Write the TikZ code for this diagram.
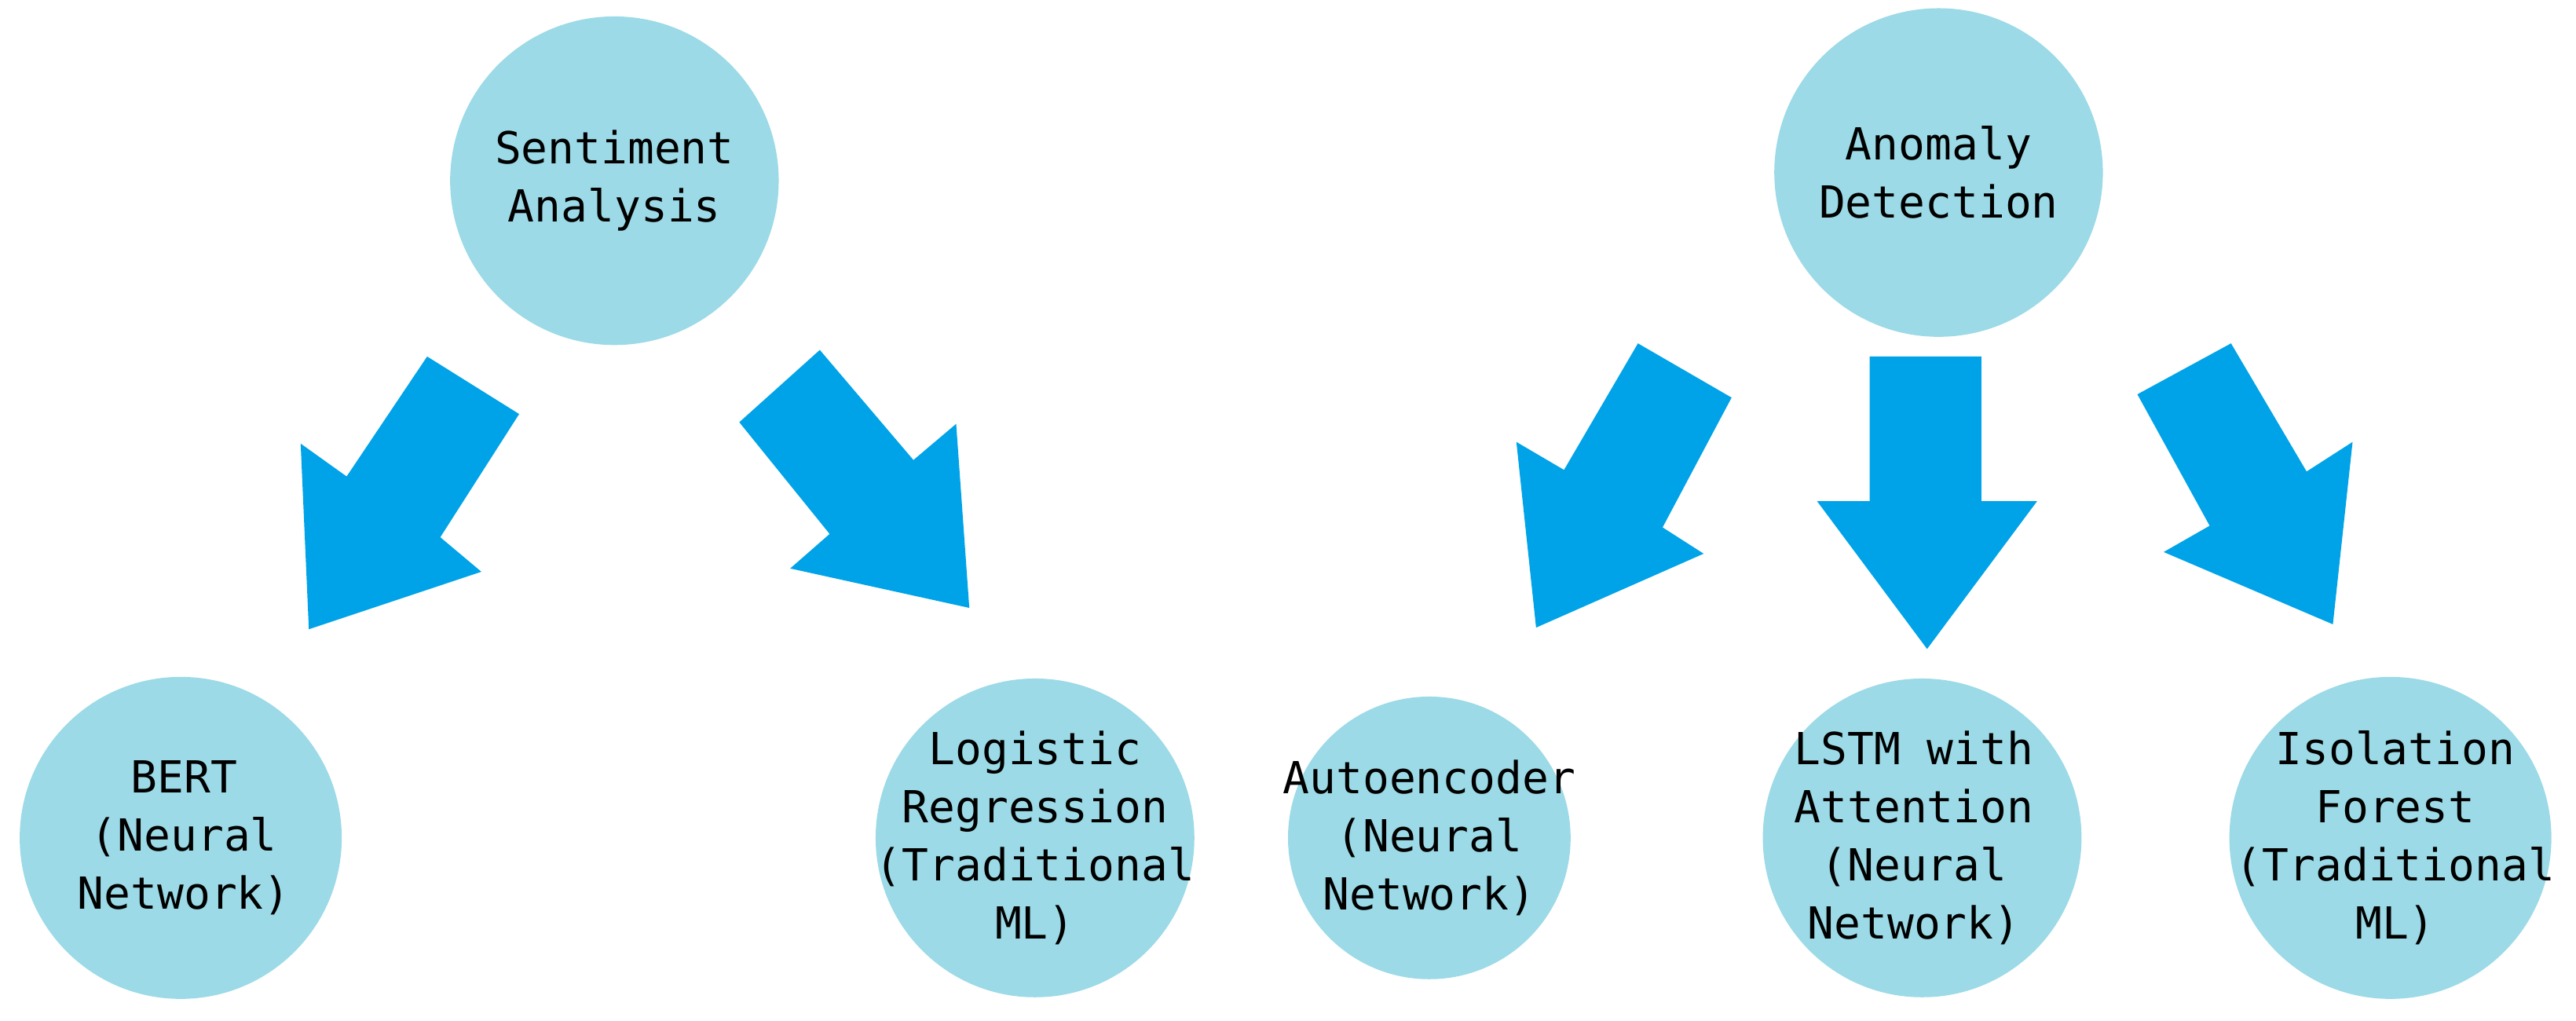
\documentclass[tikz,border=0pt]{standalone}
\usepackage{fontspec}
\setmainfont{DejaVu Sans Mono}
\definecolor{circ}{RGB}{155,218,230}
\definecolor{arr}{RGB}{0,163,232}
\begin{document}
\begin{tikzpicture}[x=0.020918cm,y=-0.020918cm,
  c/.style={circle,fill=circ,draw=none,inner sep=0pt,minimum size={#1*0.020918cm}},
  t/.style={align=center,font=\fontsize{16}{21}\selectfont},
  a/.style={fill=arr,draw=none}]
\useasboundingbox (0,0) rectangle (1568,621);
\node[c=200] (sa) at (374,110) {};
\node[t] at (sa) {Sentiment\\Analysis};
\node[c=200] (ad) at (1180,105) {};
\node[t] at (ad) {Anomaly\\Detection};
\node[c=196] (bert) at (110,510) {};
\node[t] at (112,510) {BERT\\(Neural\\Network)};
\node[c=194] (lr) at (630,510) {};
\node[t] at (630,510) {Logistic\\Regression\\(Traditional\\ML)};
\node[c=172] (ae) at (870,510) {};
\node[t] at (870,510) {Autoencoder\\(Neural\\Network)};
\node[c=194] (lstm) at (1170,510) {};
\node[t] at (1165,510) {LSTM with\\Attention\\(Neural\\Network)};
\node[c=196] (if) at (1455,510) {};
\node[t] at (1458,510) {Isolation\\Forest\\(Traditional\\ML)};
\fill[a] (260,217)--(316,252)--(268,327)--(293,348)--(188,383)--(183,270)--(211,290)--cycle;
\fill[a] (450,257)--(499,213)--(556,280)--(582,258)--(590,370)--(481,346)--(505,325)--cycle;
\fill[a] (997,209)--(1054,242)--(1012,321)--(1037,337)--(935,382)--(923,269)--(952,286)--cycle;
\fill[a] (1138,217)--(1206,217)--(1206,305)--(1240,305)--(1173,395)--(1106,305)--(1138,305)--cycle;
\fill[a] (1301,240)--(1358,209)--(1404,287)--(1432,269)--(1420,380)--(1317,336)--(1345,320)--cycle;
\end{tikzpicture}
\end{document}
